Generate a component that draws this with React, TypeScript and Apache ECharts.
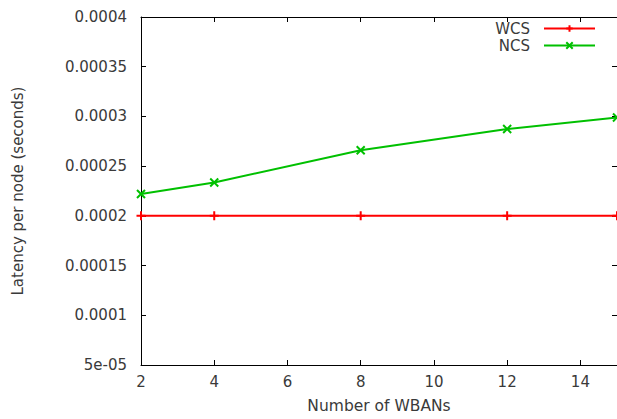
import React, { useEffect, useRef } from "react";
import * as echarts from "echarts";

const xValues = [2, 4, 8, 12, 15];
const wcsValues = [0.0002, 0.0002, 0.0002, 0.0002, 0.0002];
const ncsValues = [0.000222, 0.0002335, 0.000266, 0.0002873, 0.000299];
const seriesNames = ["WCS", "NCS"];
const xTitle = "Number of WBANs";
const yTitle = "Latency per node (seconds)";

const FONT = "DejaVu Sans";
const TXT = "#3a3a3a";

function fmtY(v: number): string {
  const r = parseFloat(v.toPrecision(6));
  if (Math.abs(r - 0.00005) < 1e-12) return "5e-05";
  return String(r);
}

export default function App() {
  const ref = useRef<HTMLDivElement>(null);
  useEffect(() => {
    if (!ref.current) return;
    const chart = echarts.init(ref.current, undefined, { renderer: "svg" });
    const plus = "path://M0,-1L0,1M-1,0L1,0";
    const cross = "path://M-1,-1L1,1M-1,1L1,-1";
    chart.setOption({
      animation: false,
      backgroundColor: "#ffffff",
      grid: { left: 141, top: 17, right: -1, bottom: 51 },
      legend: {
        orient: "vertical",
        right: 16,
        top: 16,
        align: "right",
        itemWidth: 51,
        itemHeight: 8,
        itemGap: 2,
        textStyle: {
          fontFamily: FONT,
          fontSize: 15,
          lineHeight: 15,
          color: TXT,
          padding: [0, 9, 0, 0],
        },
        data: seriesNames,
      },
      xAxis: [
        {
          type: "value",
          min: 2,
          max: 15,
          interval: 2,
          name: xTitle,
          nameLocation: "middle",
          nameGap: 33,
          nameTextStyle: { fontFamily: FONT, fontSize: 15.5, color: TXT },
          axisLine: { show: true, lineStyle: { color: "#000", width: 1 } },
          axisTick: { show: true, inside: true, length: 5, lineStyle: { color: "#000" } },
          axisLabel: {
            fontFamily: FONT,
            fontSize: 15,
            color: TXT,
            margin: 9,
            showMaxLabel: false,
          },
          splitLine: { show: false },
        },
        {
          type: "value",
          position: "top",
          min: 2,
          max: 15,
          interval: 2,
          axisLine: { show: true, lineStyle: { color: "#000", width: 1 } },
          axisTick: { show: true, inside: true, length: 5, lineStyle: { color: "#000" } },
          axisLabel: { show: false },
          splitLine: { show: false },
        },
      ],
      yAxis: [
        {
          type: "value",
          min: 0.00005,
          max: 0.0004,
          interval: 0.00005,
          name: yTitle,
          nameLocation: "middle",
          nameGap: 116,
          nameTextStyle: { fontFamily: FONT, fontSize: 15, color: TXT },
          axisLine: { show: true, lineStyle: { color: "#000", width: 1 } },
          axisTick: { show: true, inside: true, length: 5, lineStyle: { color: "#000" } },
          axisLabel: {
            fontFamily: FONT,
            fontSize: 15,
            color: TXT,
            margin: 14,
            formatter: (v: number) => fmtY(v),
          },
          splitLine: { show: false },
        },
        {
          type: "value",
          position: "right",
          min: 0.00005,
          max: 0.0004,
          interval: 0.00005,
          axisLine: { show: false },
          axisTick: { show: true, inside: true, length: 5, lineStyle: { color: "#000" } },
          axisLabel: { show: false },
          splitLine: { show: false },
        },
      ],
      series: [
        {
          name: seriesNames[0],
          type: "line",
          data: xValues.map((x, i) => [x, wcsValues[i]]),
          symbol: plus,
          symbolSize: 9,
          showAllSymbol: true,
          lineStyle: { color: "#ff0000", width: 2 },
          itemStyle: { color: "#ff0000", borderColor: "#ff0000", borderWidth: 2 },
          clip: false,
          z: 3,
        },
        {
          name: seriesNames[1],
          type: "line",
          data: xValues.map((x, i) => [x, ncsValues[i]]),
          symbol: cross,
          symbolSize: 8,
          showAllSymbol: true,
          lineStyle: { color: "#00c000", width: 2 },
          itemStyle: { color: "#00c000", borderColor: "#00c000", borderWidth: 2 },
          clip: false,
          z: 4,
        },
      ],
    });
    return () => chart.dispose();
  }, []);
  return <div ref={ref} style={{ width: 617, height: 419, position: "absolute", left: 0, top: 0 }} />;
}
